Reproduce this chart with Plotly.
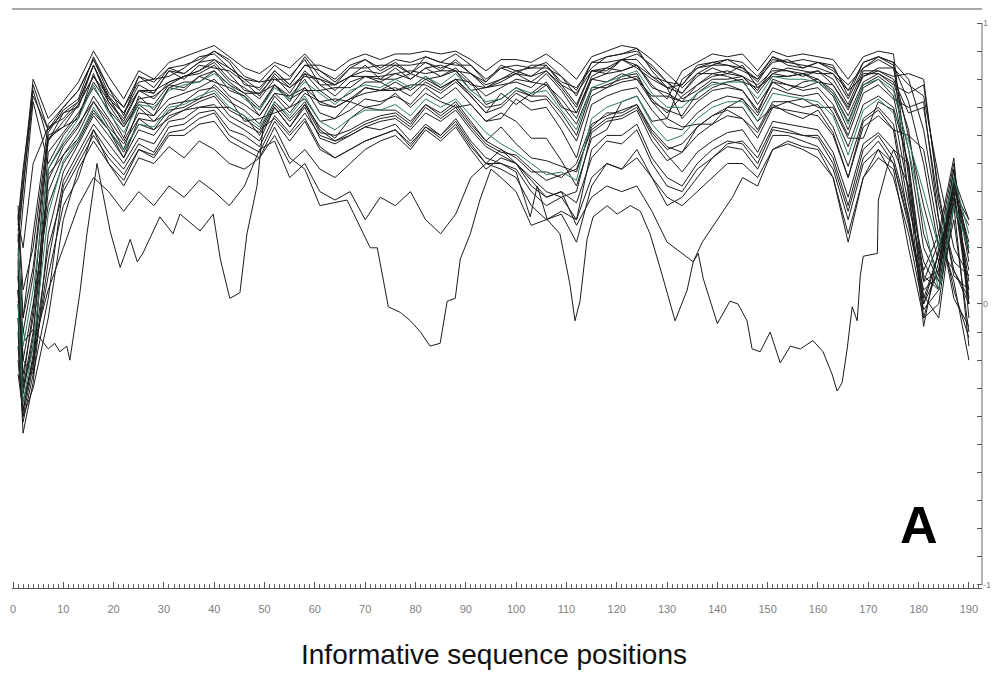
import plotly.graph_objects as go

# ---------------- data ----------------
X = [1, 2, 4, 7, 10, 13, 16, 19, 22, 25, 28, 31, 34, 37, 40, 43, 46, 49, 52, 55, 58,
     61, 64, 67, 70, 73, 76, 79, 82, 85, 88, 91, 94, 97, 100, 103, 106, 109, 112,
     115, 118, 121, 124, 127, 130, 133, 136, 139, 142, 145, 148, 151, 154, 157, 160,
     163, 166, 169, 172, 175, 178, 181, 184, 187, 190]

c1 = [.28,.45,.80,.66, .72,.79,.90,.81,.73,.83,.80,.86,.88,.90,.92,.88,.84,.82,.86,.84,.89,
      .83,.80,.85,.87,.84,.87,.86,.88,.86,.89,.85,.80, .84,.85,.84,.86,.81,.76,
      .86,.88,.89,.90,.84,.79, .73,.76,.80,.80,.81,.75,.82,.81,.82,.80,.76,.67,.79,.82,.78,
      .75,.78,.40,.10,.05]
c2 = [.22,.40,.78,.62, .70,.76,.87,.77,.70,.81,.79,.84,.85,.87,.90,.87,.81,.79,.85,.81,.87,
      .78,.74,.79,.81,.79,.82,.80,.84,.81,.84,.79,.74, .77,.80,.79,.78,.73,.66,
      .80,.82,.83,.85,.78,.73, .83,.86,.89,.88,.89,.83,.90,.88,.89,.88,.87,.80,.88,.90,.89,
      .45,.02,.18,.40,.08]
c3 = [.30,.48,.76,.58, .68,.72,.85,.74,.68,.78,.75,.83,.82,.86,.87,.84,.80,.76,.83,.78,.85,
      .85,.83,.87,.89,.87,.89,.89,.90,.89,.90,.87,.83, .87,.87,.86,.89,.85,.80,
      .88,.90,.92,.91,.87,.82, .77,.82,.85,.85,.84,.79,.87,.86,.85,.84,.82,.73,.84,.87,.84,
      .60,.35,.15,.40,.30]
c4 = [.35,-.05,.13,.60, .63,.71,.81,.72,.65,.76,.73,.79,.81,.83,.86,.80,.77,.73,.80,.77,.82,
      .80,.78,.81,.83,.82,.85,.82,.86,.84,.86,.82,.78, .80,.83,.81,.83,.77,.70,
      .83,.84,.87,.87,.81,.77, .66,.72,.76,.77,.76,.69,.79,.78,.76,.77,.71,.60,.75,.78,.73,
      .70,.72,.30,.02,-.08]
c5 = [.15,.35,.72,.50, .60,.67,.79,.71,.63,.72,.71,.78,.77,.81,.83,.78,.75,.70,.78,.74,.80,
      .71,.70,.73,.75,.76,.77,.74,.79,.76,.80,.74,.68, .70,.75,.72,.73,.66,.58,
      .74,.77,.79,.80,.72,.66, .80,.84,.86,.87,.86,.81,.88,.86,.87,.86,.84,.76,.86,.88,.86,
      .38,.08,.22,.50,.02]
c6 = [.20,-.15,.05,.48, .58,.66,.78,.68,.61,.71,.70,.76,.78,.79,.82,.78,.73,.69,.77,.73,.79,
      .75,.71,.76,.78,.77,.80,.77,.81,.78,.82,.76,.72, .73,.77,.75,.76,.69,.62,
      .77,.79,.81,.83,.75,.70, .70,.75,.78,.79,.79,.73,.81,.80,.80,.79,.75,.64,.78,.80,.76,
      .55,.30,.05,.35,.20]
c7 = [.10,-.25,-.05,.44, .56,.63,.74,.66,.58,.68,.67,.73,.75,.77,.80,.74,.71,.67,.75,.70,.77,
      .68,.66,.69,.73,.72,.74,.71,.77,.73,.77,.71,.65, .66,.73,.69,.70,.62,.52,
      .71,.74,.76,.77,.69,.63, .62,.68,.72,.74,.73,.67,.77,.75,.74,.75,.68,.56,.71,.74,.70,
      .50,-.05,.15,.44,.15]
c8 = [.05,-.30,-.10,.40, .53,.61,.72,.63,.57,.66,.65,.71,.72,.76,.77,.72,.69,.64,.74,.68,.75,
      .72,.70,.73,.77,.76,.79,.76,.80,.77,.80,.75,.70, .71,.76,.74,.74,.68,.60,
      .76,.78,.80,.81,.73,.68, .74,.78,.81,.82,.81,.76,.84,.83,.82,.83,.78,.70,.81,.83,.80,
      .68,.70,.35,.15,.10]
c9 = [.00,-.35,-.15,.32, .51,.59,.70,.62,.55,.64,.63,.70,.71,.74,.76,.70,.67,.63,.72,.67,.74,
      .65,.62,.66,.69,.69,.71,.67,.73,.70,.73,.67,.61, .57,.54,.50,.46,.47,.44,
      .66,.70,.72,.74,.64,.58, .60,.66,.70,.72,.72,.65,.75,.74,.73,.72,.67,.53,.69,.73,.68,
      .58,.40,.20,.45,.25]
c10 = [-.10,-.46,-.28,.25, .47,.57,.67,.60,.52,.62,.60,.67,.69,.72,.74,.67,.64,.61,.71,.65,.71,
       .61,.60,.62,.65,.67,.68,.64,.71,.67,.71,.64,.58, .55,.52,.47,.47,.45,.50,
       .64,.67,.69,.71,.61,.55, .57,.63,.67,.70,.70,.62,.72,.72,.70,.71,.63,.49,.66,.70,.64,
       .35,.12,.25,.52,-.05]
c11 = [-.20,-.40,-.22,.15, .44,.54,.64,.57,.50,.59,.57,.65,.66,.70,.71,.65,.62,.58,.70,.63,.70,
       .59,.57,.60,.63,.65,.66,.62,.68,.65,.69,.62,.56, .53,.50,.45,.40,.38,.40,
       .61,.65,.66,.69,.58,.51, .54,.60,.64,.67,.66,.59,.70,.69,.68,.67,.60,.45,.63,.67,.62,
       .60,.55,.25,.08,-.20]
c12 = [.25,-.20,-.25,.02, .42,.52,.62,.54,.48,.57,.54,.63,.64,.68,.69,.62,.60,.56,.67,.61,.68,
       .60,.58,.61,.64,.66,.67,.63,.70,.66,.70,.63,.57, .54,.53,.48,.44,.46,.48,
       .62,.66,.67,.70,.60,.53, .47,.54,.58,.61,.62,.54,.65,.64,.63,.62,.54,.38,.57,.61,.55,
       .42,-.08,.20,.36,.12]
n1 = [.18,-.05,.25,.64, .70,.76,.87,.75,.70,.79,.80,.81,.84,.88,.89,.84,.80,.79,.80,.80,.88,
      .81,.78,.84,.87,.83,.86,.82,.88,.86,.85,.85,.79, .84,.82,.85,.85,.79,.77,
      .84,.88,.89,.91,.83,.77, .78,.85,.86,.85,.83,.80,.88,.85,.84,.86,.85,.74,.86,.88,.85,
      .72,.50,.20,.12,.00]
n2 = [.12,-.10,.10,.58, .65,.71,.81,.74,.64,.73,.74,.78,.81,.82,.85,.79,.75,.75,.78,.72,.82,
      .76,.77,.77,.81,.80,.80,.82,.80,.81,.83,.76,.77, .78,.79,.77,.82,.76,.68,
      .81,.84,.83,.85,.77,.75, .72,.78,.82,.81,.79,.77,.81,.81,.82,.79,.78,.69,.82,.82,.79,
      .62,.25,.10,.42,.22]
n3 = [.26,.42,.74,.62, .68,.70,.85,.73,.68,.76,.75,.83,.80,.85,.84,.83,.79,.74,.82,.77,.81,
      .80,.76,.81,.85,.80,.84,.80,.84,.85,.83,.82,.77, .79,.82,.81,.85,.78,.75,
      .83,.82,.87,.85,.81,.79, .75,.81,.84,.82,.85,.77,.82,.84,.83,.82,.82,.76,.81,.84,.84,
      .78,.74,.45,.20,.10]
n4 = [.00,-.32,-.12,.54, .61,.68,.77,.69,.63,.71,.67,.77,.76,.81,.79,.77,.74,.67,.75,.74,.77,
      .72,.73,.72,.77,.76,.76,.78,.78,.75,.79,.74,.68, .75,.71,.75,.79,.71,.64,
      .77,.77,.81,.82,.72,.69, .67,.75,.79,.78,.76,.68,.80,.78,.77,.79,.74,.62,.77,.80,.74,
      .48,.08,.12,.48,.18]
n5 = [-.15,-.42,-.25,.48, .57,.64,.72,.65,.55,.70,.65,.68,.72,.73,.78,.73,.65,.66,.68,.70,.73,
      .65,.66,.72,.70,.71,.75,.70,.75,.72,.70,.71,.65, .68,.65,.59,.59,.51,.42,
      .59,.62,.72,.74,.65,.66, .63,.64,.64,.70,.73,.65,.70,.72,.73,.70,.70,.59,.59,.72,.69,
      .40,.15,.05,.38,.28]
n6 = [.32,.05,.20,.61, .69,.73,.88,.77,.67,.81,.77,.84,.82,.86,.90,.86,.78,.77,.83,.78,.85,
      .83,.79,.84,.84,.85,.85,.85,.86,.83,.87,.82,.79, .85,.83,.84,.84,.81,.74,
      .86,.86,.87,.89,.85,.79, .78,.84,.85,.87,.84,.80,.86,.87,.84,.86,.83,.78,.84,.88,.86,
      .80,.62,.30,.05,-.12]
n7 = [.05,-.28,-.02, .59,.63,.66,.82,.69,.59,.74,.69,.77,.79, .79,.83,.76,.74,.69,.78,.73,.76,
      .76,.72, .75,.79,.79,.76,.77,.81,.77,.80,.79,.71, .73,.77,.74,.78,.70,.68,.80,.79,.82,.80,
      .74,.74,.72,.73,.77,.79,.80,.71,.79,.76, .79,.80,.75,.65,.78,.81,.77,
      .55,.20,.08,.45,.30]
n8 = [-.25,-.38,-.20, .46,.53,.59,.69,.62,.52,.66,.62,.66,.69, .70,.70,.70,.67,.60,.70,.63,.71,
      .63,.59, .66,.70,.69,.69,.65,.71,.68,.72,.65,.58, .63,.57,.52,.51,.49,.47,.63,.68,.68,.71,
      .62,.56,.54,.63,.67,.69,.66,.61,.71,.68, .66,.69,.61,.45,.65,.69,.62,
      .30,.00,.18,.48,.00]
n9 = [.30,.20,.50, .63,.66,.72,.85,.72,.66,.76,.76,.79,.81, .83,.87,.82,.76,.75,.81,.75,.83,
      .78,.78, .81,.81,.81,.82,.83,.82,.83,.83,.78,.77, .80,.82,.79,.83,.78,.71,.83,.83,.87,.84,
      .80,.77,.75,.82,.82,.83,.81,.78,.83,.83, .81,.83,.80,.71,.83,.83,.81,
      .82,.80,.38,.12,.02]
R = [-.05,-.35,-.20,.10, .35,.45,.62,.50,.42,.52,.50,.56,.52,.58,.55,.50,.48,.52,.60,.50,.55,
     .48,.45,.50,.55,.58,.60,.55,.62,.58,.63,.55,.48, .52,.50,.44,.38,.40,.36,
     .52,.58,.57,.62,.50,.42, .40,.48,.52,.56,.55,.48,.60,.60,.58,.56,.48,.30,.50,.55,.45,
     .25,-.02,.05,.42,.18]
S = [.05,-.30,-.15,.05, .20,.35,.45,.40,.33,.40,.35,.42,.38,.44,.40,.35,.42,.55,.58,.45,.50,
     .40,.37,.40,.30,.38,.35,.40,.30,.25,.32,.45,.50, .48,.45,.35,.30,.33,.30,
     .45,.50,.48,.52,.45,.38, .35,.40,.45,.50,.50,.45,.55,.57,.55,.52,.45,.25,.45,.52,.48,
     .20,-.05,.00,.38,.05]

P_x = [1, 2.4, 4, 7, 8.3, 9.3, 10.7, 11.3, 13.3, 14.7, 16.7, 19.3, 21.3, 23.3, 24.7, 25.8,
       29.2, 31.8, 33.2, 37.2, 39.8, 41.2, 43.1, 45.1, 46.5, 48.5, 49.7, 52, 55, 58, 61, 64,
       67, 70, 73, 76, 79, 82, 85, 88, 91, 94, 97, 100, 103, 106, 109, 112, 115, 118, 121,
       124, 127, 130, 133, 136, 139, 142, 145, 148, 151, 154, 157, 160, 163, 166, 169, 172,
       175, 178, 181, 184, 187, 190]
P_y = [.01,-.13,-.09,-.16,-.14,-.17,-.15,-.20,.04,.25, .50,.26,.13,.23,.15,.18,.31,.25,.32,.26,
       .32,.16,.02,.04,.25,.42,.63, .66,.60,.66,.56,.52,.55,.58,.60,.62,.57,
       .63,.60,.65,.57,.50,.50,.48,.40,.35,.38, .30,.55,.60,.60,.64,.52,.45,.42,.50,.55,
       .58,.57,.50,.62,.61,.60,.59,.50,.33,.52, .58,.50,.30,.05,.10,.40,.00]

D1_x = [1, 2, 4, 7, 10, 13, 16, 19, 22, 25, 28, 31, 34, 37, 40, 43, 46, 49, 52, 55, 58, 61,
        66.4, 71, 72.4, 74.6, 77, 79, 81, 82.9, 84.9, 86.3, 87.9, 88.9, 90.9, 92.8, 95, 97,
        100, 103, 106, 109, 112, 115, 118, 121, 124, 127, 130, 133, 136, 139, 142, 145, 148,
        151, 154, 157, 160, 163, 166, 169, 172, 175, 178, 181, 184, 187, 190]
D1_y = [.15,-.40,-.30,-.05,.30,.48,.58,.50,.44,.55, .52,.60,.60,.64,.65,.58,.55,.52,.63,.52,
        .48,.35,.37,.20,.20,-.01,-.03,-.06,-.10,-.15, -.14,.01,.02,.16,.25,.37,.48,.45,.40,.28,
        .30,.32,.22,.42,.50,.48,.55,.45,.35,.38, .45,.52,.57,.58,.52,.63,.62,.60,.60,.52,
        .35,.55,.60,.52,.32,.00,.12,.43,.20]

E_x = [1, 2, 4, 7, 10, 13, 16, 19, 22, 25, 28, 31, 34, 37, 40, 43, 46, 49, 52, 55, 58, 61, 64,
       67, 70, 73, 76, 79, 82, 85, 88, 91, 94, 97, 100, 102.8, 104.2, 106.2, 108.7, 110.7,
       111.7, 112.7, 114.1, 115.3, 118.1, 120.1, 122.7, 124.7, 126.6, 128.6, 131.6, 134,
       135.2, 136.2, 137.2, 140, 142.5, 144.1, 145.9, 146.9, 148.5, 150.5, 152.5, 154.5,
       156.5, 159, 161, 162.8, 163.8, 164.8, 165.8, 166.8, 167.8, 168.4, 169, 171.8, 172,
       173.8, 175, 178, 181, 184, 187, 190]
E_y = [.10,-.20,.00,.35,.50,.58,.68,.62,.54,.64, .62,.69,.70,.73,.75,.69,.66,.62,.72,.66,
       .72,.62,.58,.60,.63,.62,.64,.58,.64,.60, .66,.58,.52,.50,.47,.31,.42,.30,.25,.07,
       -.06,.01,.23,.31,.35,.32,.35,.33,.25,.13, -.06,.05,.15,.18,.09,-.07,.01,.00,-.06,-.16,
       -.17,-.10,-.21,-.15,-.16,-.13,-.17,-.25,-.31,-.28, -.16,-.01,-.06,.10,.17,.18,.37,.49,.55,.50,
       .10,.05,.30,-.10]

F_x = [1, 2, 4, 7, 10, 13, 16, 19, 22, 25, 28, 31, 34, 37, 40, 43, 46, 49, 52, 55, 58, 61, 64,
       67, 70, 73, 76, 79, 82, 85, 88, 91, 94, 97, 100, 103, 106, 109, 112, 115, 118, 121,
       124, 127, 130, 133, 135.2, 137, 140, 143, 145, 148, 151, 154, 157, 160, 163, 166, 169,
       172, 175, 178, 181, 184, 187, 190]
F_y = [-.05,-.38,-.18,.20,.40,.50,.60,.52,.46,.55, .53,.61,.62,.66,.68,.60,.57,.54,.65,.58,
       .65,.55,.52,.55,.58,.60,.62,.56,.63,.59, .64,.56,.50,.55,.50,.42,.38,.40,.28,.38,
       .42,.40,.42,.33,.22,.18,.15,.22,.30,.38, .45,.42,.55,.58,.56,.55,.45,.22,.45,.55,
       .50,.28,.03,-.05,.35,-.15]

X_TICKS = list(range(0, 191, 10))
Y_TICKS = [-1.0, -0.9, -0.8, -0.7, -0.6, -0.5, -0.4, -0.3, -0.2, -0.1, 0.0,
           0.1, 0.2, 0.3, 0.4, 0.5, 0.6, 0.7, 0.8, 0.9, 1.0]
Y_LABELS = {-1.0: "-1", 0.0: "0", 1.0: "1"}

DARK = "#1c1c1c"
TEAL = "#2f7a66"

series = [
    (X, c1, DARK), (X, c2, DARK), (X, c3, DARK), (X, c4, DARK), (X, c5, DARK),
    (X, c7, DARK), (X, c8, DARK), (X, c10, DARK), (X, c11, DARK), (X, c12, DARK),
    (X, n1, DARK), (X, n2, DARK), (X, n3, DARK), (X, n4, DARK), (X, n5, DARK), (X, n6, DARK),
    (X, n7, DARK), (X, n8, DARK), (X, n9, DARK),
    (X, R, DARK), (X, S, DARK), (P_x, P_y, DARK), (D1_x, D1_y, DARK),
    (E_x, E_y, DARK), (F_x, F_y, DARK),
    (X, c6, TEAL), (X, c9, TEAL),
]

fig = go.Figure()
for xs, ys, col in series:
    assert len(xs) == len(ys), (len(xs), len(ys))
    fig.add_trace(go.Scatter(x=xs, y=ys, mode="lines",
                             line=dict(color=col, width=1),
                             hoverinfo="skip", showlegend=False))

fig.update_layout(
    width=990, height=669,
    margin=dict(l=4, r=16, t=1, b=89),
    paper_bgcolor="white", plot_bgcolor="white",
    font=dict(family="Liberation Sans, Arial, sans-serif"),
    xaxis=dict(
        range=[-0.2, 192.6], showgrid=False, zeroline=False,
        showline=True, linecolor="#555", linewidth=1,
        ticks="inside", ticklen=6, tickcolor="#555", tickwidth=1,
        tickvals=X_TICKS, ticktext=[str(v) for v in X_TICKS],
        tickfont=dict(size=11, color="#808080"), ticklabelstandoff=11,
        minor=dict(dtick=1, tick0=0, ticks="inside", ticklen=4,
                   tickcolor="#666", tickwidth=1, showgrid=False),
    ),
    yaxis=dict(
        range=[-1.011, 1.05], side="right", showgrid=False, zeroline=False,
        showline=False, ticks="inside", ticklen=5, tickcolor="#555",
        tickvals=Y_TICKS, ticktext=[Y_LABELS.get(v, "") for v in Y_TICKS],
        tickfont=dict(size=9, color="#808080"),
    ),
    shapes=[
        dict(type="line", xref="paper", yref="paper", x0=0, x1=1, y0=1, y1=1,
             line=dict(color="#555", width=1.2)),
        dict(type="line", xref="paper", yref="y", x0=1, x1=1, y0=-1, y1=1,
             line=dict(color="#666", width=1)),
    ],
    annotations=[
        dict(text="<b>A</b>", xref="paper", yref="paper", x=0.935, y=0.1088,
             xanchor="center", yanchor="middle", showarrow=False,
             font=dict(size=52, color="black", family="Liberation Sans, Arial")),
        dict(text="Informative sequence positions", xref="paper", yref="paper",
             x=0.497, y=-0.1157, xanchor="center", yanchor="middle", showarrow=False,
             font=dict(size=28, color="#111", family="Liberation Sans, Arial")),
    ],
)

fig.write_html("out.html")
